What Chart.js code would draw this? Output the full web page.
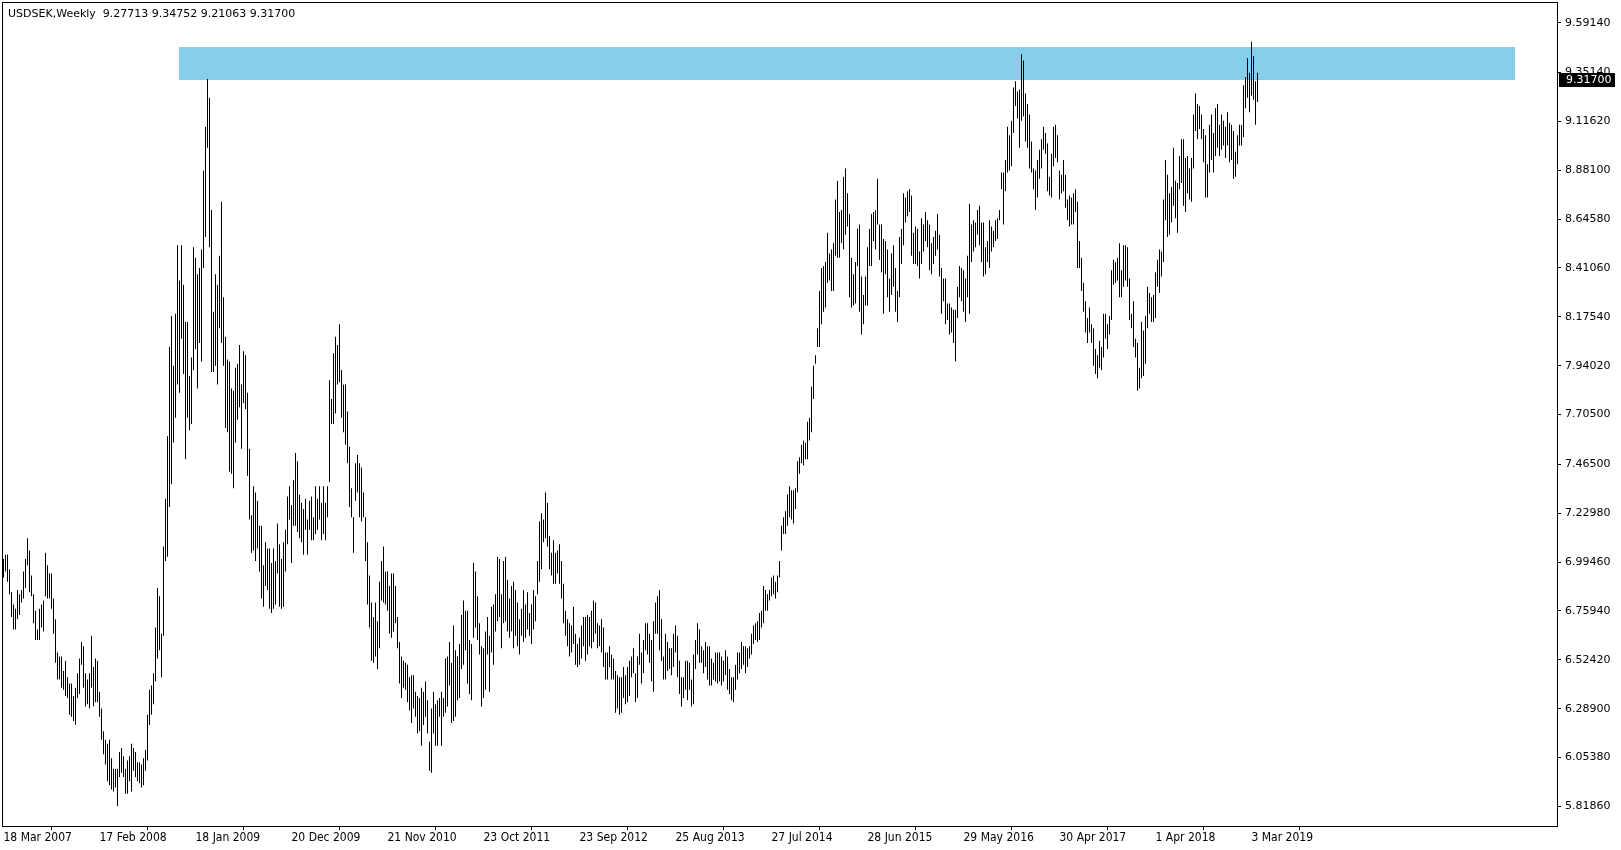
<!DOCTYPE html>
<html><head><meta charset="utf-8">
<script src="https://cdn.jsdelivr.net/npm/chart.js@4.4.1/dist/chart.umd.min.js"></script>
<style>html,body{margin:0;padding:0;background:#fff;overflow:hidden}canvas{display:block}</style>
</head><body>
<canvas id="c" width="1621" height="850"></canvas>
<script>
const headerText = 'USDSEK,Weekly  9.27713 9.34752 9.21063 9.31700';
const highs = [
7.01,7.03,7.03,6.96,6.85,6.79,6.77,6.86,6.84,6.86,
6.95,7.01,7.11,7.05,6.93,6.84,6.76,6.67,6.77,6.79,
6.81,7.04,6.98,6.94,6.94,6.82,6.72,6.56,6.54,6.54,
6.47,6.52,6.44,6.41,6.41,6.35,6.39,6.46,6.53,6.61,
6.59,6.46,6.43,6.46,6.64,6.49,6.53,6.52,6.37,6.29,
6.18,6.14,6.12,6.14,6.05,6.00,6.00,6.00,6.08,6.10,
6.06,6.00,6.04,6.06,6.12,6.10,6.08,6.03,6.03,6.02,
6.05,6.09,6.26,6.38,6.40,6.46,6.68,6.87,6.83,6.65,
7.07,7.30,7.60,8.03,8.18,7.94,8.19,8.52,8.35,8.52,
8.33,8.15,8.15,7.89,7.98,8.51,8.46,8.38,8.41,8.50,
8.88,9.09,9.32,9.23,8.69,8.20,8.38,8.33,8.47,8.73,
8.27,8.08,7.97,7.96,7.83,7.82,7.93,7.95,8.04,7.85,
8.01,7.99,7.81,7.54,7.22,7.36,7.33,7.29,7.17,7.17,
6.98,7.09,7.06,7.06,6.99,7.06,7.00,7.18,7.08,7.01,
7.09,7.15,7.31,7.36,7.27,7.39,7.52,7.48,7.32,7.28,
7.25,7.30,7.20,7.29,7.31,7.21,7.36,7.30,7.36,7.28,
7.36,7.28,7.36,7.87,7.78,8.00,8.08,8.04,8.14,7.92,
7.85,7.85,7.72,7.55,7.35,7.21,7.47,7.51,7.47,7.45,
7.33,7.21,7.09,6.93,6.80,6.73,6.80,6.71,6.90,7.00,
7.07,6.95,6.95,6.88,6.94,6.94,6.88,6.73,6.61,6.54,
6.52,6.51,6.50,6.44,6.45,6.45,6.37,6.35,6.34,6.39,
6.37,6.42,6.33,6.13,6.29,6.37,6.31,6.33,6.34,6.37,
6.34,6.53,6.54,6.61,6.51,6.69,6.57,6.54,6.60,6.74,
6.81,6.76,6.76,6.62,6.60,6.99,6.95,6.83,6.70,6.59,
6.58,6.66,6.73,6.64,6.78,6.79,6.84,7.02,7.01,6.84,
7.00,7.02,6.91,6.82,6.88,6.90,6.86,6.80,6.72,6.77,
6.86,6.79,6.85,6.75,6.79,6.86,6.83,7.00,7.19,7.23,
7.20,7.33,7.28,7.12,7.04,7.10,7.04,7.05,7.08,7.00,
6.89,6.76,6.72,6.70,6.69,6.78,6.65,6.60,6.63,6.69,
6.73,6.73,6.74,6.73,6.76,6.81,6.80,6.70,6.69,6.72,
6.68,6.56,6.56,6.59,6.55,6.53,6.47,6.45,6.44,6.44,
6.49,6.45,6.49,6.52,6.54,6.58,6.46,6.54,6.65,6.56,
6.62,6.70,6.70,6.65,6.62,6.71,6.80,6.83,6.86,6.72,
6.54,6.65,6.61,6.58,6.58,6.65,6.69,6.64,6.52,6.44,
6.44,6.52,6.52,6.51,6.43,6.55,6.62,6.70,6.67,6.59,
6.57,6.61,6.59,6.59,6.53,6.51,6.56,6.56,6.56,6.54,
6.52,6.57,6.54,6.48,6.44,6.44,6.50,6.56,6.56,6.61,
6.59,6.59,6.58,6.59,6.65,6.69,6.70,6.71,6.75,6.76,
6.88,6.86,6.84,6.86,6.92,6.93,6.90,6.93,7.00,7.17,
7.21,7.24,7.32,7.36,7.34,7.34,7.35,7.48,7.50,7.56,
7.58,7.57,7.67,7.69,7.84,7.94,7.99,8.12,8.30,8.41,
8.42,8.44,8.58,8.48,8.50,8.53,8.74,8.83,8.68,8.69,
8.85,8.89,8.77,8.67,8.46,8.38,8.44,8.60,8.62,8.37,
8.28,8.37,8.51,8.60,8.67,8.68,8.69,8.84,8.62,8.62,
8.55,8.54,8.50,8.36,8.48,8.52,8.41,8.30,8.56,8.60,
8.77,8.75,8.78,8.79,8.76,8.58,8.61,8.60,8.49,8.65,
8.62,8.68,8.64,8.62,8.53,8.56,8.59,8.67,8.57,8.41,
8.36,8.36,8.24,8.24,8.22,8.21,8.21,8.32,8.42,8.41,
8.40,8.36,8.47,8.72,8.62,8.64,8.63,8.69,8.71,8.63,
8.63,8.51,8.54,8.64,8.61,8.59,8.64,8.65,8.69,8.87,
8.87,8.93,9.09,9.05,9.12,9.28,9.31,9.26,9.27,9.44,
9.41,9.25,9.20,9.15,9.02,8.89,8.88,8.93,8.98,9.03,
9.09,9.06,9.01,8.85,8.96,9.09,9.10,9.05,8.88,8.86,
8.93,8.86,8.74,8.76,8.75,8.77,8.79,8.73,8.54,8.46,
8.34,8.25,8.17,8.22,8.14,8.12,8.02,7.99,8.06,8.03,
8.19,8.19,8.14,8.18,8.40,8.45,8.44,8.46,8.53,8.40,
8.52,8.52,8.51,8.36,8.19,8.25,8.07,8.05,7.93,8.15,
8.11,8.18,8.32,8.29,8.27,8.28,8.39,8.45,8.50,8.49,
8.74,8.93,8.86,8.77,8.80,8.99,8.83,8.82,8.95,9.03,
9.03,8.94,8.95,8.89,8.94,9.15,9.25,9.20,9.19,9.15,
9.08,9.05,8.91,9.10,9.15,9.06,9.18,9.20,9.10,9.15,
9.12,9.09,9.16,9.11,9.10,9.07,8.97,9.05,9.10,9.10,
9.29,9.33,9.42,9.35,9.50,9.43,9.31,9.35
];
const lows = [
6.92,6.95,6.90,6.84,6.73,6.67,6.67,6.72,6.74,6.80,
6.82,6.87,6.98,6.85,6.83,6.70,6.62,6.62,6.62,6.68,
6.66,6.83,6.82,6.82,6.77,6.65,6.51,6.43,6.43,6.39,
6.38,6.35,6.34,6.26,6.25,6.23,6.21,6.34,6.36,6.50,
6.39,6.30,6.31,6.29,6.39,6.30,6.32,6.32,6.25,6.14,
6.07,6.02,5.94,5.92,5.90,5.89,5.91,5.82,5.96,5.98,
5.96,5.88,5.88,5.94,5.89,5.99,5.96,5.94,5.93,5.91,
5.92,5.99,6.04,6.21,6.26,6.31,6.42,6.53,6.57,6.44,
6.64,7.00,7.02,7.26,7.37,7.57,7.69,7.85,7.81,8.07,
7.90,7.49,7.69,7.63,7.66,7.92,8.02,7.83,8.05,7.96,
8.41,8.56,8.99,8.51,7.91,7.91,7.94,7.85,8.12,8.05,
7.94,7.64,7.62,7.43,7.42,7.35,7.57,7.68,7.74,7.54,
7.76,7.73,7.41,7.20,7.04,7.05,7.00,7.06,6.95,6.82,
6.78,6.88,6.86,6.77,6.75,6.77,6.79,6.94,6.78,6.77,
6.78,6.95,7.08,7.20,6.99,7.17,7.17,7.14,7.11,7.09,
7.03,7.15,7.03,7.15,7.10,7.10,7.13,7.15,7.20,7.10,
7.13,7.10,7.21,7.38,7.66,7.66,7.71,7.85,7.86,7.69,
7.62,7.56,7.47,7.26,7.21,7.04,7.29,7.33,7.21,7.19,
7.21,7.00,6.79,6.68,6.52,6.51,6.54,6.48,6.58,6.81,
6.80,6.79,6.76,6.65,6.63,6.66,6.70,6.58,6.41,6.34,
6.39,6.38,6.32,6.28,6.22,6.29,6.25,6.17,6.18,6.11,
6.21,6.25,6.17,5.99,5.98,6.17,6.11,6.11,6.25,6.11,
6.25,6.27,6.30,6.40,6.22,6.23,6.25,6.33,6.34,6.48,
6.50,6.57,6.41,6.36,6.33,6.63,6.68,6.62,6.55,6.30,
6.34,6.38,6.55,6.37,6.56,6.50,6.66,6.71,6.73,6.58,
6.70,6.71,6.66,6.63,6.66,6.58,6.64,6.59,6.55,6.64,
6.61,6.63,6.67,6.64,6.60,6.67,6.71,6.84,6.90,6.96,
7.09,7.11,7.07,6.96,6.93,6.89,6.89,6.94,6.89,6.82,
6.70,6.64,6.59,6.54,6.56,6.60,6.50,6.49,6.50,6.53,
6.59,6.52,6.55,6.59,6.58,6.61,6.65,6.58,6.59,6.56,
6.49,6.43,6.43,6.49,6.43,6.43,6.27,6.29,6.26,6.27,
6.34,6.31,6.32,6.35,6.44,6.46,6.32,6.34,6.50,6.41,
6.46,6.57,6.55,6.51,6.42,6.37,6.65,6.65,6.57,6.52,
6.43,6.43,6.47,6.48,6.45,6.49,6.56,6.44,6.36,6.30,
6.34,6.38,6.33,6.38,6.30,6.31,6.48,6.55,6.51,6.51,
6.46,6.49,6.43,6.40,6.40,6.43,6.42,6.41,6.42,6.40,
6.42,6.45,6.38,6.36,6.33,6.32,6.38,6.43,6.46,6.48,
6.50,6.46,6.49,6.53,6.55,6.60,6.62,6.61,6.62,6.68,
6.70,6.76,6.76,6.81,6.83,6.84,6.82,6.85,6.92,7.05,
7.13,7.13,7.17,7.21,7.20,7.18,7.25,7.33,7.42,7.47,
7.46,7.49,7.49,7.58,7.62,7.78,7.95,8.03,8.03,8.14,
8.20,8.22,8.34,8.35,8.30,8.30,8.47,8.46,8.46,8.53,
8.50,8.57,8.61,8.27,8.22,8.23,8.24,8.42,8.20,8.09,
8.14,8.23,8.23,8.42,8.42,8.54,8.50,8.62,8.45,8.39,
8.19,8.38,8.27,8.20,8.28,8.32,8.20,8.15,8.27,8.43,
8.52,8.63,8.66,8.68,8.47,8.43,8.43,8.42,8.36,8.43,
8.49,8.54,8.51,8.40,8.38,8.43,8.47,8.50,8.37,8.19,
8.25,8.14,8.16,8.09,8.10,8.05,7.96,8.17,8.27,8.25,
8.20,8.15,8.27,8.19,8.44,8.49,8.51,8.57,8.52,8.44,
8.37,8.38,8.44,8.41,8.49,8.51,8.54,8.55,8.64,8.79,
8.62,8.78,8.87,8.88,8.90,9.06,9.19,9.13,8.99,9.12,
9.14,9.02,8.99,8.89,8.87,8.79,8.69,8.75,8.84,8.89,
8.98,8.96,8.78,8.76,8.75,8.90,8.94,8.92,8.74,8.77,
8.78,8.70,8.64,8.61,8.62,8.62,8.68,8.41,8.41,8.30,
8.20,8.10,8.05,8.10,8.05,7.94,7.90,7.88,7.93,7.92,
7.98,8.07,8.02,8.09,8.16,8.33,8.34,8.35,8.27,8.27,
8.32,8.35,8.32,8.16,8.12,8.03,7.98,7.82,7.83,7.88,
7.89,7.95,8.12,8.19,8.15,8.15,8.17,8.32,8.29,8.37,
8.44,8.64,8.56,8.57,8.63,8.71,8.65,8.58,8.79,8.82,
8.71,8.68,8.77,8.74,8.73,8.89,9.07,9.03,9.08,9.03,
8.92,8.75,8.75,8.87,8.93,8.87,8.95,8.99,8.95,8.98,
9.00,8.94,9.00,8.92,8.93,8.84,8.85,8.91,9.00,9.00,
9.04,9.18,9.23,9.16,9.24,9.22,9.10,9.21
];
const priceTicks = [9.5914,9.3514,9.1162,8.8810,8.6458,8.4106,8.1754,7.9402,7.7050,7.4650,7.2298,6.9946,6.7594,6.5242,6.2890,6.0538,5.8186];
const dateTickBars = [0,48,96,144,192,240,288,336,384,432,480,528,576,624];
const dateLabels = ['18 Mar 2007','17 Feb 2008','18 Jan 2009','20 Dec 2009','21 Nov 2010','23 Oct 2011','23 Sep 2012','25 Aug 2013','27 Jul 2014','28 Jun 2015','29 May 2016','30 Apr 2017','1 Apr 2018','3 Mar 2019'];
const lastPrice = 9.317;
const zoneBars = [88, 756];
const zonePrices = [9.316, 9.475];

const PRICE_FONT = '11px "DejaVu Sans"';

const zonePlugin = {
  id: 'zone',
  beforeDatasetsDraw(chart) {
    const {ctx, scales: {x, y}} = chart;
    const x0 = Math.round(x.getPixelForValue(zoneBars[0]) - 0.5);
    const x1 = Math.round(x.getPixelForValue(zoneBars[1]) - 0.5);
    const y0 = Math.round(y.getPixelForValue(zonePrices[1]));
    const y1 = Math.round(y.getPixelForValue(zonePrices[0]));
    ctx.save();
    ctx.fillStyle = '#87CEEB';
    ctx.fillRect(x0, y0, x1 - x0, y1 - y0);
    ctx.restore();
  }
};

const decorPlugin = {
  id: 'decor',
  afterDraw(chart) {
    const {ctx, chartArea: a, scales: {y}} = chart;
    ctx.save();
    ctx.strokeStyle = '#000';
    ctx.lineWidth = 1;
    ctx.strokeRect(a.left + 0.5, a.top + 0.5, a.right - a.left, a.bottom - a.top);
    ctx.fillStyle = '#000';
    ctx.font = '11px "DejaVu Sans"';
    ctx.textBaseline = 'alphabetic';
    ctx.textAlign = 'left';
    ctx.fillText(headerText, 8, 17);
    const py = Math.round(y.getPixelForValue(lastPrice));
    ctx.fillStyle = '#000';
    ctx.fillRect(a.right + 2, py - 7, 56, 14);
    ctx.fillStyle = '#fff';
    ctx.font = PRICE_FONT;
    ctx.textBaseline = 'middle';
    ctx.fillText(lastPrice.toFixed(5), a.right + 9, py);
    ctx.restore();
  }
};

new Chart(document.getElementById('c'), {
  type: 'bar',
  data: {
    datasets: [{
      data: highs.map((h, i) => ({x: i, y: [lows[i], h]})),
      backgroundColor: '#000',
      borderWidth: 0,
      inflateAmount: 0,
      barThickness: 1
    }]
  },
  options: {
    responsive: false,
    animation: false,
    devicePixelRatio: 1,
    layout: {padding: {left: 2, top: 2, right: 0, bottom: 0}},
    plugins: {legend: {display: false}, tooltip: {enabled: false}, title: {display: false}},
    scales: {
      x: {
        type: 'linear', min: -0.75, max: 776.75, offset: false,
        afterBuildTicks: s => { s.ticks = dateTickBars.map(v => ({value: v})); },
        afterFit: s => { s.height = 24; s.paddingLeft = 0; s.paddingRight = 0; },
        grid: {drawOnChartArea: false, drawTicks: true, tickLength: 4, color: '#000', lineWidth: 1},
        border: {display: false},
        ticks: {
          autoSkip: false, maxRotation: 0, minRotation: 0, align: 'start', padding: 1, color: '#000',
          font: {family: '"DejaVu Sans Condensed", "DejaVu Sans"', size: 12},
          callback: (v, i) => dateLabels[i]
        }
      },
      y: {
        type: 'linear', position: 'right', min: 5.7242, max: 9.6911,
        afterBuildTicks: s => { s.ticks = priceTicks.map(v => ({value: v})); },
        afterFit: s => { s.width = 64; s.paddingTop = 0; s.paddingBottom = 0; },
        grid: {drawOnChartArea: false, drawTicks: true, tickLength: 4, color: '#000', lineWidth: 1},
        border: {display: false},
        ticks: {padding: 4, color: '#000', font: {family: '"DejaVu Sans"', size: 11}, callback: v => v.toFixed(5)}
      }
    }
  },
  plugins: [zonePlugin, decorPlugin]
});
</script>
</body></html>
